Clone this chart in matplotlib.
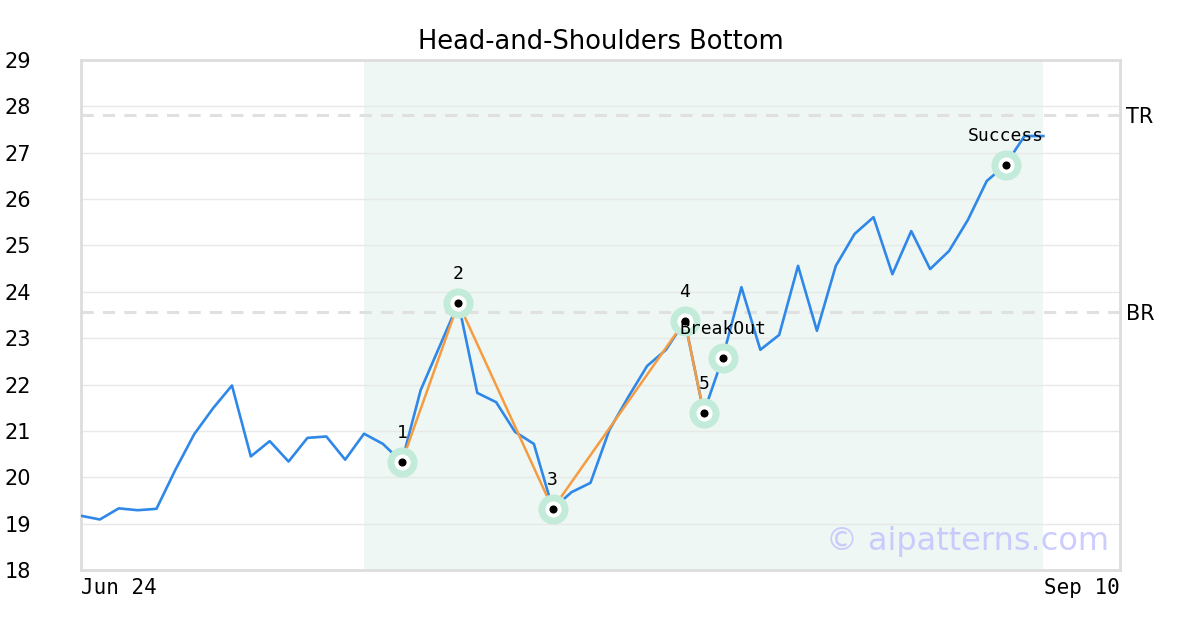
import matplotlib
matplotlib.use("Agg")
import numpy as np
import matplotlib.pyplot as plt

# price series (one value per trading day)
prices = [19.17, 19.09, 19.33, 19.29, 19.32, 20.16, 20.93, 21.49, 21.98, 20.45,
          20.78, 20.34, 20.85, 20.88, 20.38, 20.94, 20.72, 20.33, 21.88, 22.82,
          23.76, 21.82, 21.62, 20.98, 20.72, 19.32, 19.68, 19.88, 21.02, 21.73,
          22.40, 22.75, 23.37, 21.39, 22.57, 24.10, 22.75, 23.07, 24.56, 23.16,
          24.56, 25.25, 25.61, 24.38, 25.31, 24.49, 24.88, 25.55, 26.39, 26.74,
          27.36, 27.36]

# pattern pivots
pivot_idx = [17, 20, 25, 32, 33]
pivot_labels = ["1", "2", "3", "4", "5"]
breakout_idx = 34
success_idx = 49

# resistance levels
tr_level = 27.81
br_level = 23.56

# shaded pattern window
shade_start, shade_end = 15, 51

xtick_pos = [0, 55.06]
xtick_labels = ["Jun 24", "Sep 10"]
yticks = list(range(18, 30))

BLUE = "#2f88e8"
ORANGE = "#f59c42"
HALO = "#c2ebd9"
MONO = "DejaVu Sans Mono"

fig = plt.figure(figsize=(12, 6.3), dpi=100)
ax = fig.add_axes([0.0675, 0.0952, 0.8658, 0.8096])

x = np.arange(len(prices))
y = np.array(prices)

ax.axvspan(shade_start, shade_end, color="#eef7f3", zorder=0, lw=0)
ax.set_axisbelow(True)
ax.grid(axis="y", color="#e8e8e8", lw=1)

for lvl, name in [(tr_level, "TR"), (br_level, "BR")]:
    ax.axhline(lvl, color="#e0e0e0", lw=2.2, ls=(0, (4, 3)), zorder=1)
    ax.annotate(name, xy=(1, lvl), xycoords=("axes fraction", "data"),
                xytext=(4, -1), textcoords="offset points",
                ha="left", va="center", fontsize=15)

ax.plot(x, y, color=BLUE, lw=1.9, zorder=3)
ax.plot(x[pivot_idx], y[pivot_idx], color=ORANGE, lw=1.8, zorder=4)

marks = pivot_idx + [breakout_idx, success_idx]
ax.scatter(x[marks], y[marks], s=470, color=HALO, lw=0, zorder=5)
ax.scatter(x[marks], y[marks], s=135, color="white", lw=0, zorder=6)
ax.scatter(x[marks], y[marks], s=34, color="black", lw=0, zorder=7)

labels = pivot_labels + ["BreakOut", "Success"]
for i, lab in zip(marks, labels):
    ax.annotate(lab, xy=(x[i], y[i]), xytext=(0, 21), textcoords="offset points",
                ha="center", va="center", fontsize=13, family=MONO, zorder=8)

ax.text(0.99, 0.056, "\u00a9 aipatterns.com", transform=ax.transAxes,
        ha="right", va="center", fontsize=23, color="#c4c4ff", alpha=0.85, zorder=9)

ax.set_xlim(0, 55.06)
ax.set_ylim(18, 29)
ax.set_yticks(yticks)
ax.set_xticks(xtick_pos)
ax.set_xticklabels(xtick_labels, family=MONO, fontsize=15)
ax.get_xticklabels()[0].set_ha("left")
ax.get_xticklabels()[1].set_ha("right")
ax.tick_params(axis="x", length=0, pad=6)
for lab in ax.get_yticklabels():
    lab.set_ha("left")
ax.tick_params(axis="y", length=0, pad=55, labelsize=15)

for sp in ax.spines.values():
    sp.set_color("#dddddd")
    sp.set_linewidth(2)

ax.set_title("Head-and-Shoulders Bottom", fontsize=18.5, pad=8)

fig.savefig("out.png", dpi=100)
